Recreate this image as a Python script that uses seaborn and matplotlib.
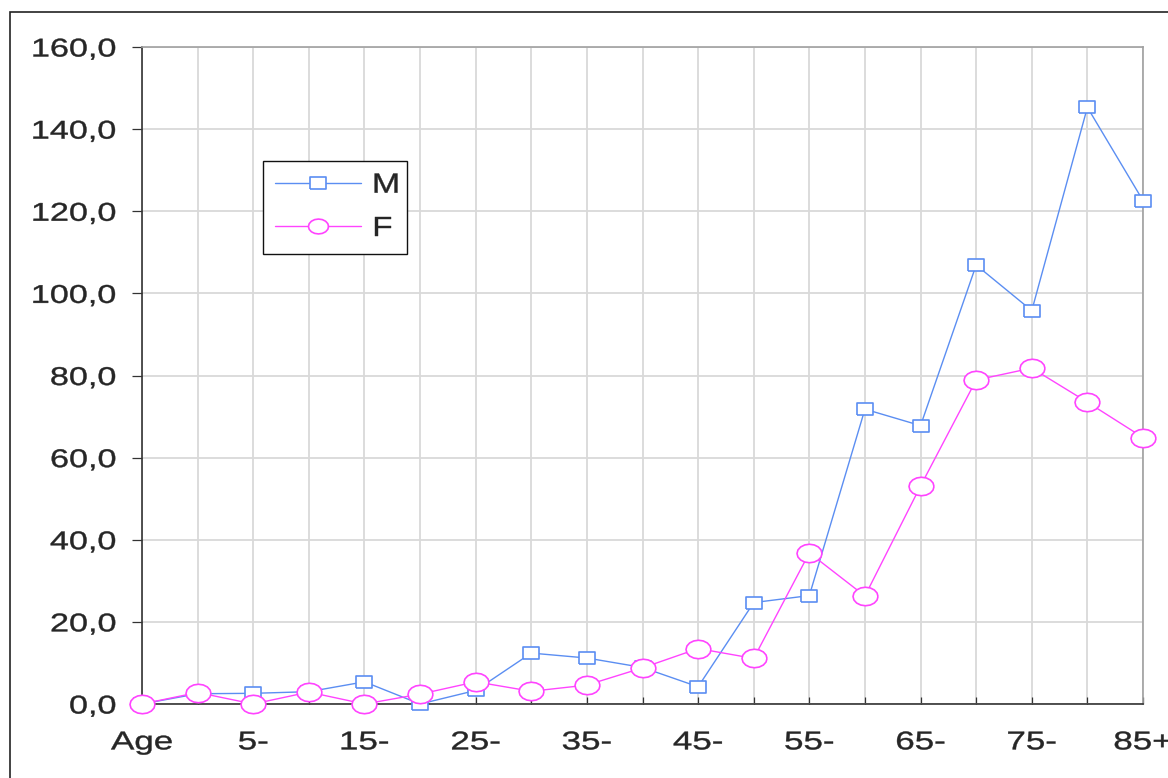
import numpy as np
import pandas as pd
import matplotlib
matplotlib.use("Agg")
import matplotlib.pyplot as plt
import seaborn as sns
from matplotlib.patheffects import AbstractPathEffect
from matplotlib.transforms import Affine2D
from matplotlib.patches import Rectangle
from matplotlib.lines import Line2D

# ---- data ----
categories = ["Age", "1-", "5-", "10-", "15-", "20-", "25-", "30-", "35-", "40-",
              "45-", "50-", "55-", "60-", "65-", "70-", "75-", "80-", "85+"]
male = [0.0, 2.5, 2.6, 3.0, 5.4, 0.0, 3.3, 12.4, 11.2, 8.9,
        4.2, 24.7, 26.4, 71.8, 67.8, 106.9, 95.8, 145.3, 122.6]
female = [0.0, 2.8, 0.0, 2.9, 0.0, 2.4, 5.4, 3.1, 4.6, 8.8,
          13.5, 11.1, 36.8, 26.3, 53.1, 78.9, 81.8, 73.5, 64.9]
series_names = ["M", "F"]
yticks = [0, 20, 40, 60, 80, 100, 120, 140, 160]
ytick_labels = ["0,0", "20,0", "40,0", "60,0", "80,0", "100,0", "120,0", "140,0", "160,0"]

M_COLOR = "#5b8ef2"
F_COLOR = "#ff44ff"


class Stretch(AbstractPathEffect):
    """Horizontally stretch (and slightly embolden) text glyphs around an anchor."""
    def __init__(self, sx, anchor="center", lw=0.3):
        super().__init__()
        self.sx = sx
        self.anchor = anchor
        self.lw = lw

    def draw_path(self, renderer, gc, tpath, affine, rgbFace=None):
        ext = tpath.get_extents()
        if self.anchor == "left":
            p = ext.x0
        elif self.anchor == "right":
            p = ext.x1
        else:
            p = (ext.x0 + ext.x1) / 2
        a = Affine2D().translate(-p, 0).scale(self.sx, 1).translate(p, 0) + affine
        gc0 = renderer.new_gc()
        gc0.copy_properties(gc)
        if rgbFace is not None and self.lw > 0:
            gc0.set_linewidth(self.lw)
            gc0.set_foreground(rgbFace)
        renderer.draw_path(gc0, tpath, a, rgbFace)
        gc0.restore()


sns.set_style("white")
plt.rcParams["font.family"] = ["Liberation Sans", "DejaVu Sans"]

W, H = 1168, 778
fig = plt.figure(figsize=(W / 100, H / 100), dpi=100)
ax = fig.add_axes([142 / W, 1 - 704 / H, (1143 - 142) / W, (704 - 47) / H])

x = np.arange(len(categories))
df = pd.DataFrame({
    "pos": np.concatenate([x, x]),
    "value": male + female,
    "sex": [series_names[0]] * len(x) + [series_names[1]] * len(x),
})

# marker shapes
rect = [(-1, -0.72), (1, -0.72), (1, 0.72), (-1, 0.72), (-1, -0.72)]
t = np.linspace(0, 2 * np.pi, 17)
ell = list(zip(np.cos(t), 0.74 * np.sin(t)))

sns.lineplot(data=df[df.sex == "M"], x="pos", y="value", ax=ax, color=M_COLOR,
             lw=1.0, marker=rect, markersize=11.8, markerfacecolor="white",
             markeredgecolor=M_COLOR, markeredgewidth=1.2, clip_on=False,
             zorder=3, legend=False)
sns.lineplot(data=df[df.sex == "F"], x="pos", y="value", ax=ax, color=F_COLOR,
             lw=1.0, marker=ell, markersize=18, markerfacecolor="white",
             markeredgecolor=F_COLOR, markeredgewidth=1.2, clip_on=False,
             zorder=4, legend=False)

ax.set_xlim(0, len(categories) - 1)
ax.set_ylim(0, 160)
ax.set_xlabel("")
ax.set_ylabel("")

ax.set_xticks(x)
ax.set_xticklabels([c if i % 2 == 0 else "" for i, c in enumerate(categories)])
ax.set_yticks(yticks)
ax.set_yticklabels(ytick_labels)

ax.grid(True, color="#d9d9d9", lw=1.3)
ax.set_axisbelow(True)
for s in ["left", "bottom"]:
    ax.spines[s].set_color("#333333")
    ax.spines[s].set_linewidth(1.2)
for s in ["right", "top"]:
    ax.spines[s].set_color("#a0a0a0")
    ax.spines[s].set_linewidth(1.2)
    ax.spines[s].set_visible(True)

ax.tick_params(axis="y", direction="out", length=7.5, width=0.9, color="#333333",
               labelsize=18.5, pad=11, left=True)
ax.tick_params(axis="x", direction="in", length=5, width=0.9, color="#333333",
               labelsize=18.5, pad=19, bottom=True)

for lab in ax.get_yticklabels():
    lab.set_path_effects([Stretch(1.33, "right")])
for lab in ax.get_xticklabels():
    lab.set_path_effects([Stretch(1.36, "center")])

# legend
handles = [
    Line2D([], [], color=M_COLOR, lw=1.0, marker=rect, markersize=11.8,
           markerfacecolor="white", markeredgecolor=M_COLOR, markeredgewidth=1.2),
    Line2D([], [], color=F_COLOR, lw=1.0, marker=ell, markersize=14.5,
           markerfacecolor="white", markeredgecolor=F_COLOR, markeredgewidth=1.2),
]
leg = ax.legend(handles, series_names, loc="upper left",
                bbox_to_anchor=(263 / W, 1 - 161 / H), bbox_transform=fig.transFigure,
                borderaxespad=0, fontsize=20, handlelength=3.1, handletextpad=0.42,
                borderpad=0.42, labelspacing=0.62, numpoints=1, fancybox=False,
                framealpha=1, edgecolor="#111111")
leg.get_frame().set_linewidth(1.0)
for txt in leg.get_texts():
    txt.set_path_effects([Stretch(1.22, "left")])

# outer frame
fig.patches.append(Rectangle((9.5 / W, -0.1), 1.2, 1 - 12.5 / H + 0.1, fill=False,
                             edgecolor="#222222", lw=1.2, transform=fig.transFigure,
                             figure=fig))

fig.savefig("out.png", dpi=100)
